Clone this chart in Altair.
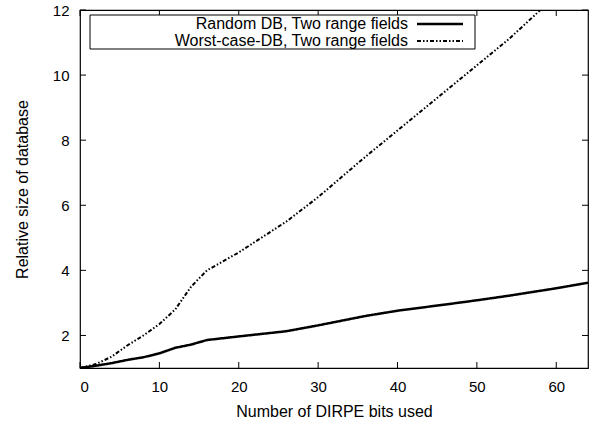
import altair as alt
import pandas as pd

bits_random = [0, 2, 4, 6, 8, 10, 12, 14, 16, 20, 26, 30, 36, 40, 46, 50, 54, 60, 64]
size_random = [1.0, 1.07, 1.15, 1.25, 1.33, 1.45, 1.62, 1.72, 1.86, 1.97, 2.13, 2.31, 2.6, 2.76, 2.95, 3.08, 3.22, 3.45, 3.62]

bits_worst = [0, 2, 4, 6, 8, 10, 12, 14, 16, 20, 26, 30, 36, 40, 46, 50, 54, 58, 64]
size_worst = [1.0, 1.12, 1.35, 1.7, 2.0, 2.35, 2.8, 3.5, 4.0, 4.55, 5.5, 6.25, 7.5, 8.3, 9.5, 10.3, 11.1, 12.0, 13.3]

series_names = ["Random DB, Two range fields", "Worst-case-DB, Two range fields"]
x_ticks = [0, 10, 20, 30, 40, 50, 60]
y_ticks = [2, 4, 6, 8, 10, 12]

W, H = 508, 358
FONT = "Liberation Sans"
DASH = [4, 2, 1.5, 2, 1.5, 2]

df = pd.DataFrame(
    {"bits": bits_random, "size": size_random, "series": series_names[0]}
)
df = pd.concat(
    [df, pd.DataFrame({"bits": bits_worst, "size": size_worst, "series": series_names[1]})],
    ignore_index=True,
)

xs = alt.Scale(domain=[0, 64], nice=False, zero=False)
ys = alt.Scale(domain=[1, 12], nice=False, zero=False)

lines = alt.Chart(df).mark_line(clip=True, color="black").encode(
    x=alt.X("bits:Q", scale=xs, title="Number of DIRPE bits used",
            axis=alt.Axis(values=x_ticks, ticks=False, domain=False, grid=False,
                          labelFont=FONT, labelFontSize=15, labelPadding=11,
                          titleFont=FONT, titleFontSize=16, titleFontWeight="normal",
                          titlePadding=9, labelColor="black", titleColor="black")),
    y=alt.Y("size:Q", scale=ys, title="Relative size of database",
            axis=alt.Axis(values=y_ticks, ticks=False, domain=False, grid=False,
                          labelFont=FONT, labelFontSize=15, labelPadding=11,
                          titleFont=FONT, titleFontSize=16, titleFontWeight="normal",
                          titlePadding=22, labelColor="black", titleColor="black")),
    detail="series:N",
    strokeDash=alt.StrokeDash("series:N", scale=alt.Scale(domain=series_names, range=[[1, 0], DASH]), legend=None),
    strokeWidth=alt.StrokeWidth("series:N", scale=alt.Scale(domain=series_names, range=[2.5, 2]), legend=None),
)

xt = pd.DataFrame({"v": x_ticks})
yt = pd.DataFrame({"v": y_ticks})
TL = 6
x_bot = alt.Chart(xt).mark_rule(color="black").encode(
    x=alt.X("v:Q", scale=xs), y=alt.value(H), y2=alt.value(H - TL))
x_top = alt.Chart(xt).mark_rule(color="black").encode(
    x=alt.X("v:Q", scale=xs), y=alt.value(0), y2=alt.value(TL))
y_left = alt.Chart(yt).mark_rule(color="black").encode(
    y=alt.Y("v:Q", scale=ys), x=alt.value(0), x2=alt.value(TL))
y_right = alt.Chart(yt).mark_rule(color="black").encode(
    y=alt.Y("v:Q", scale=ys), x=alt.value(W), x2=alt.value(W - TL))

leg_box = alt.Chart(pd.DataFrame({"a": [0]})).mark_rect(fill="white", stroke="black", strokeWidth=1).encode(
    x=alt.value(10), x2=alt.value(395), y=alt.value(5), y2=alt.value(39))

leg_text1 = alt.Chart(pd.DataFrame({"t": [series_names[0]]})).mark_text(
    align="right", baseline="middle", font=FONT, fontSize=16, color="black").encode(
    text="t:N", x=alt.value(328), y=alt.value(14))
leg_text2 = alt.Chart(pd.DataFrame({"t": [series_names[1]]})).mark_text(
    align="right", baseline="middle", font=FONT, fontSize=16, color="black").encode(
    text="t:N", x=alt.value(328), y=alt.value(31))
leg_line1 = alt.Chart(pd.DataFrame({"a": [0]})).mark_rule(color="black", strokeWidth=2.5).encode(
    x=alt.value(337), x2=alt.value(383), y=alt.value(14))
leg_line2 = alt.Chart(pd.DataFrame({"a": [0]})).mark_rule(color="black", strokeWidth=2, strokeDash=DASH).encode(
    x=alt.value(337), x2=alt.value(383), y=alt.value(31))

chart = alt.layer(
    lines, x_bot, x_top, y_left, y_right,
    leg_box, leg_text1, leg_text2, leg_line1, leg_line2,
).properties(
    width=W, height=H,
    autosize=alt.AutoSizeParams(type="none"),
    padding={"left": 80, "top": 10, "right": 7, "bottom": 55},
    background="white",
).configure_view(stroke="black", strokeWidth=1.2)

chart.save("out.html", embed_options={"renderer": "svg", "actions": False})
